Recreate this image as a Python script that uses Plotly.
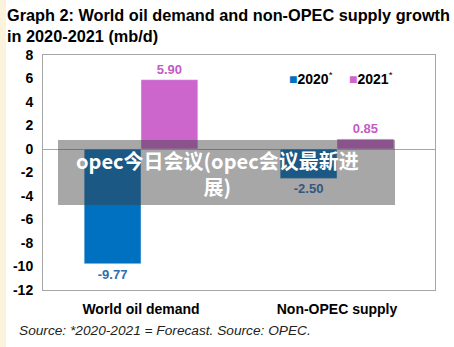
import plotly.graph_objects as go

categories = ["World oil demand", "Non-OPEC supply"]
series_names = ["2020", "2021"]
values_2020 = [-9.77, -2.50]
values_2021 = [5.90, 0.85]
tick_vals = [8, 6, 4, 2, 0, -2, -4, -6, -8, -10, -12]

title = "Graph 2: World oil demand and non-OPEC supply growth<br>in 2020-2021 (mb/d)"
source = "Source: *2020-2021 = Forecast. Source: OPEC."
overlay_text = "opec今日会议(opec会议最新进<br>展)"

blue = "#0070C0"
pink = "#CC66CC"

W, H = 454, 347
L, R, T, B = 43, 19, 55, 57
pw, ph = W - L - R, H - T - B

def px(x):
    return (x - L) / pw

def py(y):
    return (H - B - y) / ph

fig = go.Figure()
fig.add_bar(x=categories, y=values_2020, name=series_names[0], marker_color=blue,
            text=[f"{v:.2f}" for v in values_2020], textposition="outside",
            texttemplate="<b>%{text}</b>",
            textfont=dict(color="#2F6DB5", size=13, family="Liberation Sans"),
            cliponaxis=False, showlegend=False)
fig.add_bar(x=categories, y=values_2021, name=series_names[1], marker_color=pink,
            text=[f"{v:.2f}" for v in values_2021], textposition="outside",
            texttemplate="<b>%{text}</b>",
            textfont=dict(color="#C45AC4", size=13, family="Liberation Sans"),
            cliponaxis=False, showlegend=False)

fig.update_layout(
    width=W, height=H,
    margin=dict(l=L, r=R, t=T, b=B),
    paper_bgcolor="white", plot_bgcolor="white",
    barmode="group", bargap=0.42, bargroupgap=0,
    font=dict(family="Liberation Sans, Arial", color="#000000"),
    showlegend=False,
    xaxis=dict(showline=True, linecolor="#A6A6A6", linewidth=1, mirror=True,
               ticks="", tickfont=dict(size=14, family="Liberation Sans", color="#000"),
               range=[-0.5, 1.5], tickvals=categories,
               ticktext=[f"<b>{c}</b>" for c in categories], ticklabelstandoff=6),
    yaxis=dict(range=[-12, 8], tickvals=tick_vals,
               ticktext=[f"<b>{v}</b>" for v in tick_vals], showgrid=False,
               zeroline=True, zerolinecolor="#A6A6A6", zerolinewidth=1,
               showline=True, linecolor="#A6A6A6", linewidth=1, mirror=True,
               ticks="", tickfont=dict(size=14, family="Liberation Sans", color="#000"),
               ticklabelstandoff=6),
)

legend_items = [(series_names[0], blue, 287), (series_names[1], pink, 347)]
annotations = [
    dict(text=f"<b>{title}</b>", x=px(5), y=py(4), xref="paper", yref="paper",
         xanchor="left", yanchor="top", showarrow=False, align="left",
         font=dict(size=16.3, family="Liberation Sans", color="#000")),
    dict(text=f"<i>{source}</i>", x=px(17), y=py(321), xref="paper", yref="paper",
         xanchor="left", yanchor="top", showarrow=False, align="left",
         font=dict(size=13.7, family="Liberation Sans", color="#222")),
    dict(text=f"<b>{overlay_text}</b>", x=px(217), y=py(173), xref="paper", yref="paper",
         xanchor="center", yanchor="middle", showarrow=False, align="center",
         font=dict(size=20, family="Noto Sans CJK SC", color="white")),
]
for name, col, x in legend_items:
    annotations.append(dict(
        text=f"<span style='color:{col}'>■</span><b>{name}</b><sup>*</sup>",
        x=px(x), y=py(78), xref="paper", yref="paper", xanchor="left", yanchor="middle",
        showarrow=False, font=dict(size=14, family="Liberation Sans", color="#000")))
fig.update_layout(annotations=annotations)

fig.update_layout(shapes=[
    dict(type="rect", xref="paper", yref="paper", x0=px(0), x1=px(6), y0=py(347), y1=py(0),
         fillcolor="#FCF3DC", line_width=0, layer="below"),
    dict(type="rect", xref="paper", yref="paper", x0=px(58), x1=px(395), y0=py(205), y1=py(140),
         fillcolor="rgba(60,60,60,0.45)", line_width=0, layer="above"),
])

fig.write_html("out.html")
